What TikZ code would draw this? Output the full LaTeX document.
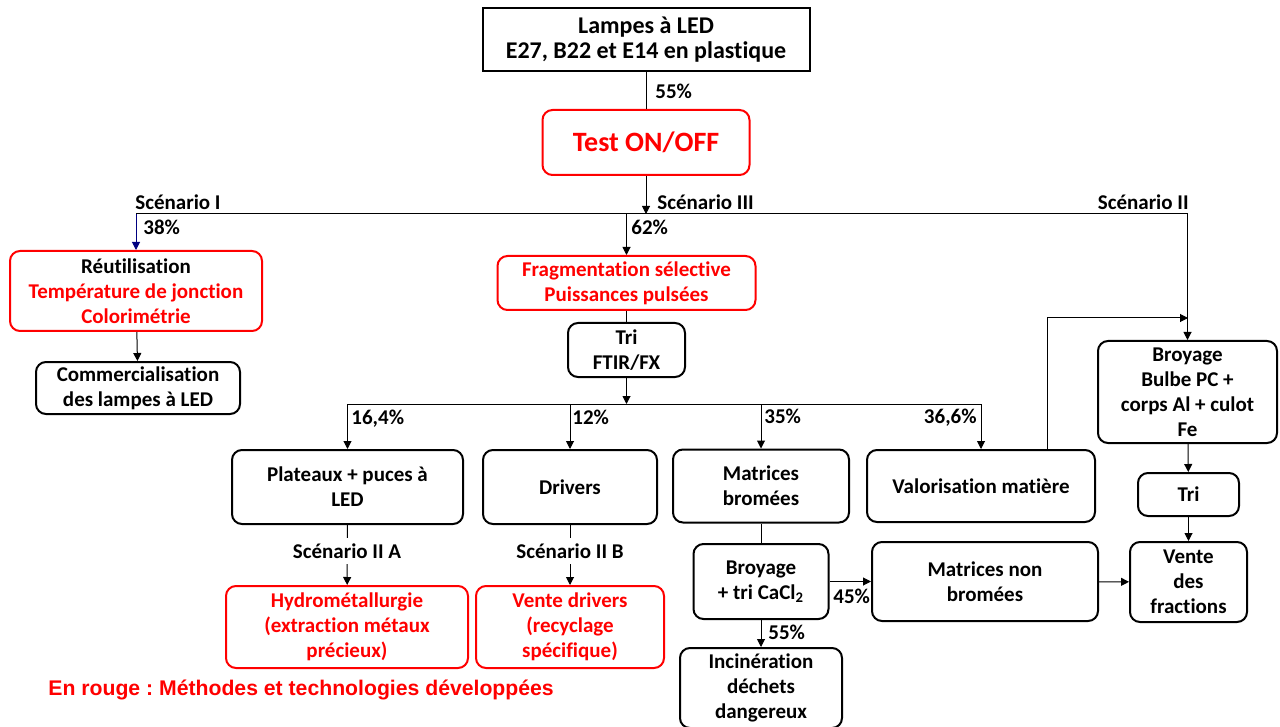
\documentclass[tikz,border=0pt]{standalone}
\usepackage{fontspec}
\setmainfont{Carlito}[Ligatures=NoCommon]
\newfontfamily\legendfont{Liberation Sans}
\usetikzlibrary{arrows.meta,positioning}
\definecolor{navyarrow}{RGB}{0,0,128}
\definecolor{redline}{RGB}{255,0,0}
\frenchspacing

\begin{document}
\begin{tikzpicture}[x=0.5pt,y=-0.5pt,
  box/.style={draw,line width=1pt,rounded corners=5pt,align=center,inner sep=1pt,
    font=\bfseries\fontsize{10.5}{12.5}\selectfont},
  redbox/.style={box,draw=redline,text=redline},
  lbl/.style={font=\bfseries\fontsize{10.5}{12.5}\selectfont,inner sep=0pt},
  arr/.style={-{Triangle[length=4pt,width=4pt]},line width=0.5pt},
  lnk/.style={line width=0.5pt}]
  \useasboundingbox (0,0) rectangle (1280,727);

  \node[box,rounded corners=0pt,minimum width=163.5pt,minimum height=31.5pt,
    font=\bfseries\fontsize{12}{12.5}\selectfont] (lampes) at (646,39.5)
    {Lampes à LED\\E27, B22 et E14 en plastique};
  \node[redbox,minimum width=103.5pt,minimum height=32.5pt,
    font=\bfseries\fontsize{14}{16}\selectfont] (test) at (646,142.5) {Test ON/OFF};
  \node[redbox,minimum width=126pt,minimum height=40pt] (reuse) at (136,291)
    {{\color{black}Réutilisation}\\Température de jonction\\Colorimétrie};
  \node[redbox,minimum width=129pt,minimum height=27pt] (frag) at (626.5,283)
    {Fragmentation sélective\\Puissances pulsées};
  \node[box,minimum width=58.5pt,minimum height=27pt] (ftir) at (626.5,350) {Tri\\FTIR/FX};
  \node[box,minimum width=102pt,minimum height=26pt] (comm) at (138,388)
    {Commercialisation\\des lampes à LED};
  \node[box,minimum width=89.5pt,minimum height=51pt] (broyA) at (1187.5,392)
    {Broyage\\Bulbe PC +\\corps Al + culot\\Fe};
  \node[box,minimum width=115.5pt,minimum height=37pt] (plateaux) at (347.5,487)
    {Plateaux + puces à\\LED};
  \node[box,minimum width=87pt,minimum height=37pt] (drivers) at (570,487) {Drivers};
  \node[box,minimum width=88pt,minimum height=36.5pt] (matB) at (761,486) {Matrices\\bromées};
  \node[box,minimum width=114pt,minimum height=36pt] (valo) at (981,486) {Valorisation matière};
  \node[box,minimum width=50.5pt,minimum height=21.5pt] (triB) at (1188.5,494.5) {Tri};
  \node[box,minimum width=67.5pt,minimum height=37.5pt] (broyC) at (761,581.5)
    {Broyage\\+ tri CaCl\textsubscript{2}};
  \node[box,minimum width=113pt,minimum height=39.5pt] (matNB) at (985,581.5)
    {Matrices non\\bromées};
  \node[box,minimum width=58.5pt,minimum height=40pt] (vente) at (1188.5,582)
    {Vente\\des\\fractions};
  \node[redbox,minimum width=121pt,minimum height=41pt] (hydro) at (347,627)
    {Hydrométallurgie\\(extraction métaux\\précieux)};
  \node[redbox,minimum width=94pt,minimum height=41pt] (vdrivers) at (570,627)
    {Vente drivers\\(recyclage\\spécifique)};
  \node[box,minimum width=81pt,minimum height=40pt] (incin) at (761,688)
    {Incinération\\déchets\\dangereux};

  \coordinate (s1) at (646,214);
  \coordinate (s2) at (626.5,404);
  \coordinate (join) at (1188,318);

  \draw[lnk] (lampes) -- (test);
  \draw[arr] (test) -- (s1);
  \draw[lnk] (reuse.north |- s1) -- (broyA.north |- s1);
  \draw[arr,navyarrow] (reuse.north |- s1) -- (reuse.north);
  \draw[arr] (frag.north |- s1) -- (frag.north);
  \draw[arr] (broyA.north |- s1) -- (broyA.north);
  \draw[arr] (reuse) -- (comm);
  \draw[lnk] (frag) -- (ftir);
  \draw[arr] (ftir) -- (s2);
  \draw[lnk] (plateaux.north |- s2) -- (valo.north |- s2);
  \draw[arr] (plateaux.north |- s2) -- (plateaux.north);
  \draw[arr] (drivers.north |- s2) -- (drivers.north);
  \draw[arr] (matB.north |- s2) -- (matB.north);
  \draw[arr] (valo.north |- s2) -- (valo.north);
  \draw[arr] ([xshift=33pt]valo.north) |- (join);
  \draw[arr] (broyA) -- (triB);
  \draw[arr] (triB) -- (vente);
  \draw[arr] (matNB) -- (vente);
  \draw[lnk] (matB) -- (broyC);
  \draw[arr] (broyC) -- (matNB);
  \draw[arr] (broyC) -- (incin);
  \draw[arr] (plateaux) -- (hydro);
  \draw[arr] (drivers) -- (vdrivers);

  \node[lbl,anchor=base west] (p55a) at (655,99) {55\%};
  \node[lbl,anchor=base west] (scIII) at (657,210) {Scénario III};
  \node[lbl,anchor=base west] (scI) at (135,210) {Scénario I};
  \node[lbl,anchor=base east] (scII) at (1189,210) {Scénario II};
  \node[lbl,anchor=base west] (p38) at (143,235) {38\%};
  \node[lbl,anchor=base west] (p62) at (631,235) {62\%};
  \node[lbl,anchor=base west] (p164) at (351,424) {16,4\%};
  \node[lbl,anchor=base west] (p12) at (572,424) {12\%};
  \node[lbl,anchor=base west] (p35) at (764,423) {35\%};
  \node[lbl,anchor=base east] (p366) at (977,423) {36,6\%};
  \node[lbl,anchor=base west] (p45) at (833,603) {45\%};
  \node[lbl,anchor=base west] (p55b) at (768,639) {55\%};
  \node[lbl,fill=white,inner ysep=3pt] (scIIA) at (347,551) {Scénario II A};
  \node[lbl,fill=white,inner ysep=3pt] (scIIB) at (570,551) {Scénario II B};
  \node[anchor=base west,inner sep=0pt,text=redline,
    font=\legendfont\bfseries\fontsize{10.6}{12}\selectfont] (legend) at (48,695)
    {En rouge : Méthodes et technologies développées};
\end{tikzpicture}
\end{document}
